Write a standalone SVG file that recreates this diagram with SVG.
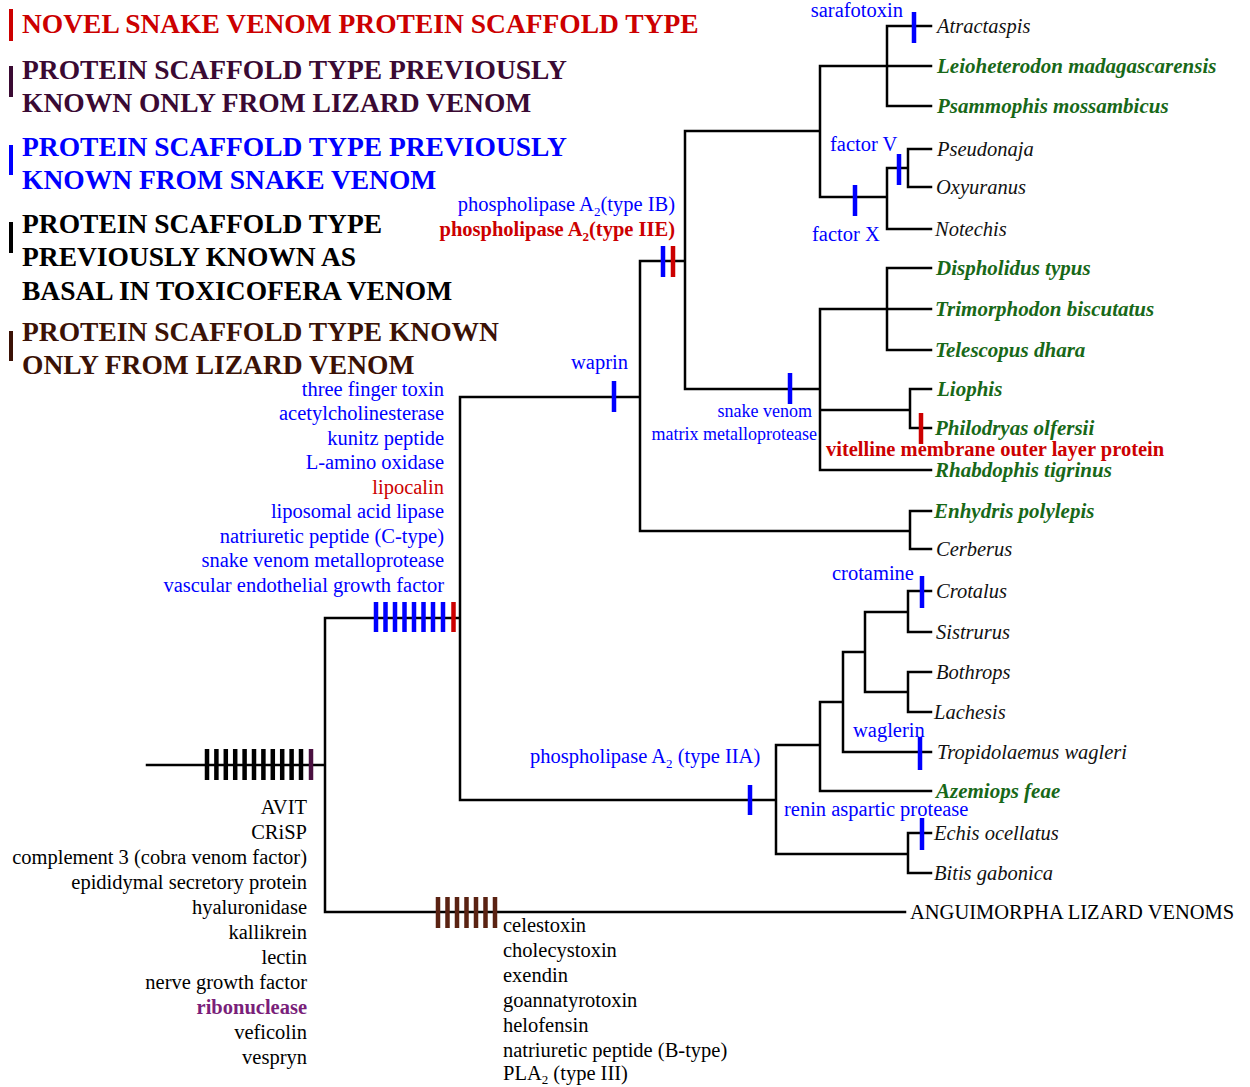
<svg xmlns="http://www.w3.org/2000/svg" width="1250" height="1087" viewBox="0 0 1250 1087">
<style>
text{font-family:"Liberation Serif","Times New Roman",serif;font-size:20.5px}
.lg{font-size:27.5px;font-weight:bold}
.b{fill:#0000ff}
.r{fill:#cc0000}
.k{fill:#000}
.bd{font-weight:bold}
.tx{font-style:italic;fill:#111}
.gr{font-style:italic;font-weight:bold;fill:#186818;font-size:21px}
.sm{font-size:18px}
.end{text-anchor:end}
.ln{stroke:#000;stroke-width:2.5;fill:none;stroke-linecap:square}
.tk{stroke-width:4.5}
.tb{stroke:#0000ff}
.tr{stroke:#cc0000}
.tK{stroke:#000}
.tp{stroke:#4a1040}
.tn{stroke:#5a2212}
</style>
<rect width="1250" height="1087" fill="#fff"/>
<g id="legend">
<rect x="9" y="9" width="4" height="32" fill="#cc0000"/>
<text class="lg r" x="22" y="33">NOVEL SNAKE VENOM PROTEIN SCAFFOLD TYPE</text>
<rect x="9" y="66" width="4" height="31" fill="#3a0a33"/>
<text class="lg" fill="#3a0a33" x="22" y="79">PROTEIN SCAFFOLD TYPE PREVIOUSLY</text>
<text class="lg" fill="#3a0a33" x="22" y="112">KNOWN ONLY FROM LIZARD VENOM</text>
<rect x="9" y="145" width="4" height="30" fill="#0000ff"/>
<text class="lg b" x="22" y="156">PROTEIN SCAFFOLD TYPE PREVIOUSLY</text>
<text class="lg b" x="22" y="189">KNOWN FROM SNAKE VENOM</text>
<rect x="9" y="222" width="4" height="31" fill="#000"/>
<text class="lg k" x="22" y="233">PROTEIN SCAFFOLD TYPE</text>
<text class="lg k" x="22" y="266">PREVIOUSLY KNOWN AS</text>
<text class="lg k" x="22" y="300">BASAL IN TOXICOFERA VENOM</text>
<rect x="9" y="331" width="4" height="30" fill="#3b1206"/>
<text class="lg" fill="#3b1206" x="22" y="341">PROTEIN SCAFFOLD TYPE KNOWN</text>
<text class="lg" fill="#3b1206" x="22" y="374">ONLY FROM LIZARD VENOM</text>
</g>
<g id="connectors">
<path class="ln" d="M147,765H325 M325,618V912 M325,618H460 M325,912H905 M460,397V800 M460,397H640 M460,800H776 M640,261V531 M640,261H685 M640,531H910 M685,131V389 M685,131H820 M685,389H820 M820,66V197 M820,66H887 M887,26V106 M887,26H931 M887,66H931 M887,106H931 M820,197H887 M887,168V229 M887,168H908 M908,149V187 M908,149H931 M908,187H931 M887,229H931 M820,309V470 M820,309H887 M887,268V350 M887,268H931 M887,309H931 M887,350H931 M820,410H910 M910,389V428 M910,389H931 M910,428H931 M820,470H931 M910,511V549 M910,511H931 M910,549H931 M776,745V854 M776,745H820 M820,702V791 M820,702H843 M843,652V752 M843,652H865 M865,612V692 M865,612H908 M908,591V632 M908,591H931 M908,632H931 M865,692H908 M908,672V712 M908,672H931 M908,712H931 M843,752H931 M820,791H931 M776,854H908 M908,833V873 M908,833H931 M908,873H931"/>
<g class="tk">
<path class="tK" d="M207,749V780 M216.4,749V780 M225.8,749V780 M235.2,749V780 M244.6,749V780 M254,749V780 M263.4,749V780 M272.8,749V780 M282.2,749V780 M291.6,749V780 M301,749V780"/>
<path class="tp" d="M311,749V780"/>
<path class="tb" d="M376,602V632 M385.5,602V632 M395,602V632 M404.5,602V632 M414,602V632 M423.5,602V632 M433,602V632 M443,602V632 M614,381V412 M663,246V277 M790,373V404 M914,12V43 M855,185V216 M899,154V185 M922,576V608 M920,737V770 M750,785V815 M922,818V850"/>
<path class="tr" d="M453.5,602V632 M673,246V277 M921,413V444"/>
<path class="tn" d="M438,897V928 M447.5,897V928 M457,897V928 M466.5,897V928 M476,897V928 M485.5,897V928 M495,897V928"/>
</g>
</g>
<g id="toxicofera-markers">
<text class="k end" x="307" y="814">AVIT</text>
<text class="k end" x="307" y="839">CRiSP</text>
<text class="k end" x="307" y="864">complement 3 (cobra venom factor)</text>
<text class="k end" x="307" y="889">epididymal secretory protein</text>
<text class="k end" x="307" y="914">hyaluronidase</text>
<text class="k end" x="307" y="939">kallikrein</text>
<text class="k end" x="307" y="964">lectin</text>
<text class="k end" x="307" y="989">nerve growth factor</text>
<text class="end bd" fill="#7a1f7a" x="307" y="1014">ribonuclease</text>
<text class="k end" x="307" y="1039">veficolin</text>
<text class="k end" x="307" y="1064">vespryn</text>
</g>
<g id="snake-markers">
<text class="b end" x="444" y="396">three finger toxin</text>
<text class="b end" x="444" y="420.4">acetylcholinesterase</text>
<text class="b end" x="444" y="444.8">kunitz peptide</text>
<text class="b end" x="444" y="469.2">L-amino oxidase</text>
<text class="r end" x="444" y="493.6">lipocalin</text>
<text class="b end" x="444" y="518">liposomal acid lipase</text>
<text class="b end" x="444" y="542.6">natriuretic peptide (C-type)</text>
<text class="b end" x="444" y="567.2">snake venom metalloprotease</text>
<text class="b end" x="444" y="591.8">vascular endothelial growth factor</text>
</g>
<g id="lizard-markers">
<text class="k" x="503" y="932">celestoxin</text>
<text class="k" x="503" y="957">cholecystoxin</text>
<text class="k" x="503" y="982">exendin</text>
<text class="k" x="503" y="1007">goannatyrotoxin</text>
<text class="k" x="503" y="1032">helofensin</text>
<text class="k" x="503" y="1057">natriuretic peptide (B-type)</text>
<text class="k" x="503" y="1080">PLA<tspan dy="4" font-size="13">2</tspan><tspan dy="-4"> (type III)</tspan></text>
<text class="k" x="910" y="919">ANGUIMORPHA LIZARD VENOMS</text>
</g>
<g id="feature-labels">
<text class="b" x="571" y="369">waprin</text>
<text class="b end" x="675" y="211">phospholipase A<tspan dy="5" font-size="13">2</tspan><tspan dy="-5">(type IB)</tspan></text>
<text class="r bd end" x="675" y="236">phospholipase A<tspan dy="5" font-size="13">2</tspan><tspan dy="-5">(type IIE)</tspan></text>
<text class="b end" x="903" y="17">sarafotoxin</text>
<text class="b" x="830" y="151">factor V</text>
<text class="b" x="812" y="241">factor X</text>
<text class="b sm end" x="812" y="417">snake venom</text>
<text class="b sm end" x="817" y="440">matrix metalloprotease</text>
<text class="r bd" x="826" y="455.5">vitelline membrane outer layer protein</text>
<text class="b" x="832" y="580">crotamine</text>
<text class="b" x="853" y="737">waglerin</text>
<text class="b" x="530" y="763">phospholipase A<tspan dy="5" font-size="13">2</tspan><tspan dy="-5"> (type IIA)</tspan></text>
<text class="b" x="784" y="816">renin aspartic protease</text>
</g>
<g id="taxa">
<text class="tx" x="937" y="32.5">Atractaspis</text>
<text class="gr" x="937" y="72.5">Leioheterodon madagascarensis</text>
<text class="gr" x="937" y="112.5">Psammophis mossambicus</text>
<text class="tx" x="937" y="155.5">Pseudonaja</text>
<text class="tx" x="936" y="193.5">Oxyuranus</text>
<text class="tx" x="935" y="235.5">Notechis</text>
<text class="gr" x="936" y="274.5">Dispholidus typus</text>
<text class="gr" x="935" y="315.5">Trimorphodon biscutatus</text>
<text class="gr" x="935" y="356.5">Telescopus dhara</text>
<text class="gr" x="937" y="395.5">Liophis</text>
<text class="gr" x="935" y="434.5">Philodryas olfersii</text>
<text class="gr" x="935" y="477">Rhabdophis tigrinus</text>
<text class="gr" x="934" y="517.5">Enhydris polylepis</text>
<text class="tx" x="936" y="555.5">Cerberus</text>
<text class="tx" x="936" y="597.5">Crotalus</text>
<text class="tx" x="936" y="638.5">Sistrurus</text>
<text class="tx" x="936" y="678.5">Bothrops</text>
<text class="tx" x="934" y="718.5">Lachesis</text>
<text class="tx" x="937" y="758.5">Tropidolaemus wagleri</text>
<text class="gr" x="936" y="797.5">Azemiops feae</text>
<text class="tx" x="934" y="839.5">Echis ocellatus</text>
<text class="tx" x="934" y="879.5">Bitis gabonica</text>
</g>
</svg>
